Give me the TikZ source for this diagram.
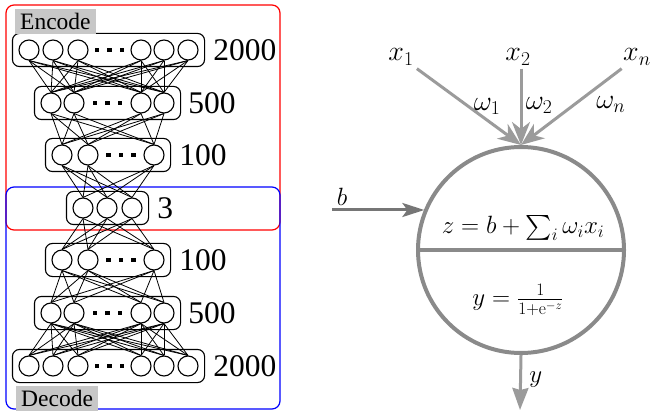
\RequirePackage{fix-cm}
\documentclass[tikz,border=0pt]{standalone}
\usepackage{amsmath}
\usepackage{fontspec}
\newfontfamily\timesfont{Liberation Serif}
\usepackage{tikz}
\usetikzlibrary{arrows.meta, positioning, fit, calc}
\definecolor{cellgray}{RGB}{138,138,138}
\definecolor{ingray}{RGB}{155,155,155}
\definecolor{biasgray}{RGB}{118,118,118}

\begin{document}
\begin{tikzpicture}[
    x=1pt, y=-1pt,
    neuron/.style={circle, draw, line width=1.1pt, minimum size=20pt, inner sep=0pt},
    layerbox/.style={rectangle, rounded corners=7pt, draw, line width=1.1pt, inner sep=6pt},
    sizelabel/.style={font=\timesfont\fontsize{31.5}{32}\selectfont, inner sep=2pt},
    sidetag/.style={fill=black!22, font=\timesfont\fontsize{23.5}{24}\selectfont,
                 inner xsep=5pt, inner ysep=4pt, anchor=north west},
    synapse/.style={line width=0.8pt},
    partbox/.style={rounded corners=8pt, line width=1.2pt},
    mathtext/.style={font=\fontsize{25}{30}\selectfont},
    inlabel/.style={font=\fontsize{28}{32}\selectfont},
    inarrow/.style={draw=ingray, line width=3pt, -{Stealth[length=23pt, width=18pt, inset=7pt]}},
    biasarrow/.style={draw=biasgray, line width=3pt, -{Stealth[length=22pt, width=14pt, inset=5pt]}},
    outarrow/.style={draw=ingray, line width=3pt, -{Stealth[length=22pt, width=16pt, inset=2pt]}}
]
\useasboundingbox (0,0) rectangle (652,411);

% autoencoder
\draw[partbox, red] (6,5) rectangle (280,230);
\draw[partbox, blue] (6,187) rectangle (280,409);

\foreach \l/\y/\xs in {1/50/{29,53,78,141,164,188}, 2/103/{51,74,141,164},
                       3/155/{62,88,154}, 4/208/{83,107,132}, 5/260/{62,88,154},
                       6/313/{51,74,141,164}, 7/366/{29,53,78,141,164,188}} {
  \foreach \x [count=\i] in \xs {
    \node[neuron] (n\l-\i) at (\x,\y) {};
  }
}
\foreach \l/\n in {1/6, 2/4, 3/3, 4/3, 5/3, 6/4, 7/6}
  \node[layerbox, fit=(n\l-1)(n\l-\n)] (box\l) {};

\foreach \a/\na/\nb in {1/6/4, 2/4/3, 3/3/3, 4/3/3, 5/3/4, 6/4/6} {
  \pgfmathtruncatemacro\b{\a+1}
  \foreach \i in {1,...,\na}
    \foreach \j in {1,...,\nb}
      \draw[synapse] (n\a-\i.south) -- (n\b-\j.north);
}

\foreach \l/\p/\q in {1/3/4, 2/2/3, 3/2/3, 5/2/3, 6/2/3, 7/3/4}
  \foreach \dx in {-12.5,0,12.5}
    \fill ($(n\l-\p)!0.5!(n\l-\q)+(\dx,0)$) +(-2.3,-2.3) rectangle +(2.3,2.3);

\node[sizelabel, right=6pt of box1] (s1) {2000};
\node[sizelabel, right=5pt of box2] (s2) {500};
\node[sizelabel, right=6pt of box3] (s3) {100};
\node[sizelabel, right=6pt of box4] (s4) {3};
\node[sizelabel, right=6pt of box5] (s5) {100};
\node[sizelabel, right=5pt of box6] (s6) {500};
\node[sizelabel, right=6pt of box7] (s7) {2000};

\node[sidetag] (enc) at (15,9) {Encode};
\node[sidetag] (dec) at (16,386) {Decode};

% single neuron
\node[circle, draw=cellgray, line width=4pt, minimum size=206pt, inner sep=0pt] (cell) at (521,250) {};
\draw[cellgray, line width=3.5pt] (cell.west) -- (cell.east);
\node[mathtext] (zeq) at (523,228) {$z=b+\sum_i\omega_i x_i$};
\node[mathtext] (yeq) at (518,300) {$y=\frac{1}{1+\mathrm{e}^{-z}}$};

\node[inlabel] (x1) at (401,57) {$x_1$};
\node[inlabel] (x2) at (518,57) {$x_2$};
\node[inlabel] (xn) at (637,57) {$x_n$};
\draw[inarrow] (x1) -- node[pos=0.5, right, inlabel] {$\omega_1$} (cell.north);
\draw[inarrow] (x2.south -| cell.north) -- node[pos=0.48, right, inlabel] {$\omega_2$} (cell.north);
\draw[inarrow] (xn) -- node[pos=0.3, below right, inlabel] {$\omega_n$} (cell.north);

\coordinate (bin) at (332,210);
\draw[biasarrow] (bin) node[above right, mathtext] {$b$} -- (bin -| cell.157);

\coordinate (yout) at (520,410);
\draw[outarrow] (cell.south) -- node[pos=0.45, right=4pt, mathtext] {$y$} (yout);
\end{tikzpicture}
\end{document}
